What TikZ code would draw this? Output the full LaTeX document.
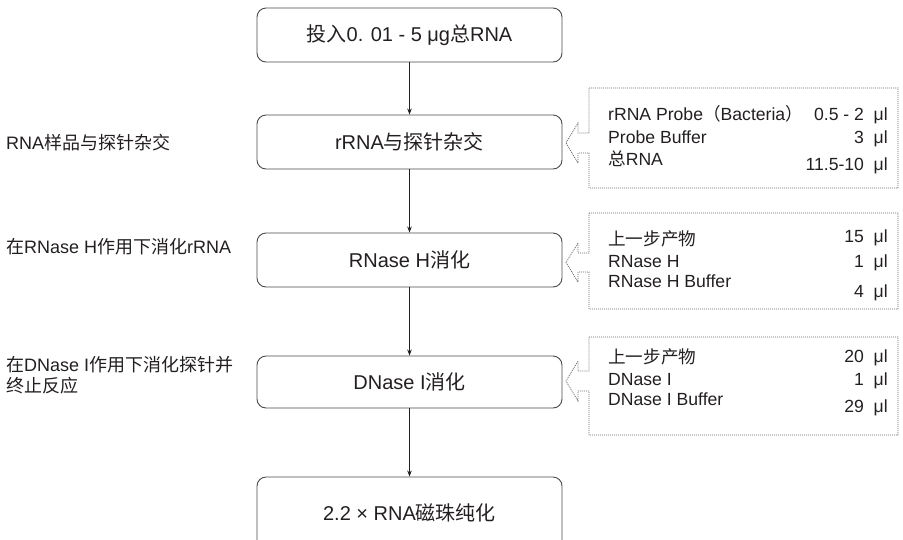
\documentclass[tikz,border=0pt]{standalone}
\usepackage{fontspec}
\setmainfont{Liberation Sans}
\newfontfamily\cjk{Noto Sans CJK SC}
\newcommand\zh[1]{{\cjk #1}}
\usetikzlibrary{arrows.meta}
\definecolor{txt}{HTML}{231F20}
\definecolor{boxline}{HTML}{4A4A4A}
\definecolor{dotline}{HTML}{6A6A6A}
\begin{document}
\begin{tikzpicture}[x=1pt,y=-1pt,
  mainbox/.style={draw=boxline, line width=0.9pt, rounded corners=9pt,
    minimum width=305pt, minimum height=54pt, inner sep=0pt, text=txt,
    font=\fontsize{20}{24}\selectfont},
  flow/.style={draw=txt, line width=0.8pt, -{Stealth[length=6pt,width=4.5pt]}},
  sidetext/.style={anchor=base west, inner sep=0pt, text=txt,
    font=\fontsize{18}{21}\selectfont},
  calltext/.style={anchor=base west, inner sep=0pt, text=txt,
    font=\fontsize{17.6}{20}\selectfont},
  callval/.style={anchor=base east, inner sep=0pt, text=txt,
    font=\fontsize{17.6}{20}\selectfont},
  callout/.style={draw=dotline, line width=0.8pt, dash pattern=on 1pt off 1pt}
]
\useasboundingbox (0,0) rectangle (903,539);
\clip (0,0) rectangle (903,539);

% main flow boxes
\node[mainbox] (b1) at (409.5,35) {\zh{投入}0. 01 - 5 μg\zh{总}RNA};
\node[mainbox] (b2) at (409.5,142) {rRNA\zh{与探针杂交}};
\node[mainbox] (b3) at (409.5,260) {RNase H\zh{消化}};
\node[mainbox, minimum height=52pt] (b4) at (409.5,382) {DNase I\zh{消化}};
\node[mainbox, minimum height=72pt] (b5) at (409.5,513) {2.2 × RNA\zh{磁珠纯化}};

\draw[flow] (b1) -- (b2);
\draw[flow] (b2) -- (b3);
\draw[flow] (b3) -- (b4);
\draw[flow] (b4) -- (b5);

% left side labels
\node[sidetext] (s1) at (6,149) {RNA\zh{样品与探针杂交}};
\node[sidetext] (s2) at (6,253) {\zh{在}RNase H\zh{作用下消化}rRNA};
\node[sidetext] (s3) at (6,371) {\zh{在}DNase I\zh{作用下消化探针并}};
\node[sidetext] (s4) at (6,392) {\zh{终止反应}};

% callout 1
\draw[callout] (589,88) -- (898,88) -- (898,188) -- (589,188) -- (589,153)
  -- (578,153) -- (578,163) -- (566,143) -- (578,123) -- (578,133) -- (589,133) -- cycle;
\node[calltext] (c1a) at (608,120) {rRNA Probe\zh{（}Bacteria\zh{）}};
\node[calltext] (c1b) at (608,143) {Probe Buffer};
\node[calltext] (c1c) at (608,165) {\zh{总}RNA};
\node[callval] (v1a) at (888,120) {0.5 - 2~~μl};
\node[callval] (v1b) at (888,143) {3~~μl};
\node[callval] (v1c) at (888,170) {11.5-10~~μl};

% callout 2
\draw[callout] (589,213) -- (898,213) -- (898,309) -- (589,309) -- (589,272)
  -- (578,272) -- (578,282) -- (566,262.5) -- (578,243) -- (578,253) -- (589,253) -- cycle;
\node[calltext] (c2a) at (608,245) {\zh{上一步产物}};
\node[calltext] (c2b) at (608,267) {RNase H};
\node[calltext] (c2c) at (608,287) {RNase H Buffer};
\node[callval] (v2a) at (888,242) {15~~μl};
\node[callval] (v2b) at (888,267) {1~~μl};
\node[callval] (v2c) at (888,297) {4~~μl};

% callout 3
\draw[callout] (589,337) -- (898,337) -- (898,435) -- (589,435) -- (589,391)
  -- (578,391) -- (578,401) -- (566,381) -- (578,361) -- (578,371) -- (589,371) -- cycle;
\node[calltext] (c3a) at (608,363) {\zh{上一步产物}};
\node[calltext] (c3b) at (608,385) {DNase I};
\node[calltext] (c3c) at (608,405) {DNase I Buffer};
\node[callval] (v3a) at (888,362) {20~~μl};
\node[callval] (v3b) at (888,385) {1~~μl};
\node[callval] (v3c) at (888,412) {29~~μl};
\end{tikzpicture}
\end{document}
